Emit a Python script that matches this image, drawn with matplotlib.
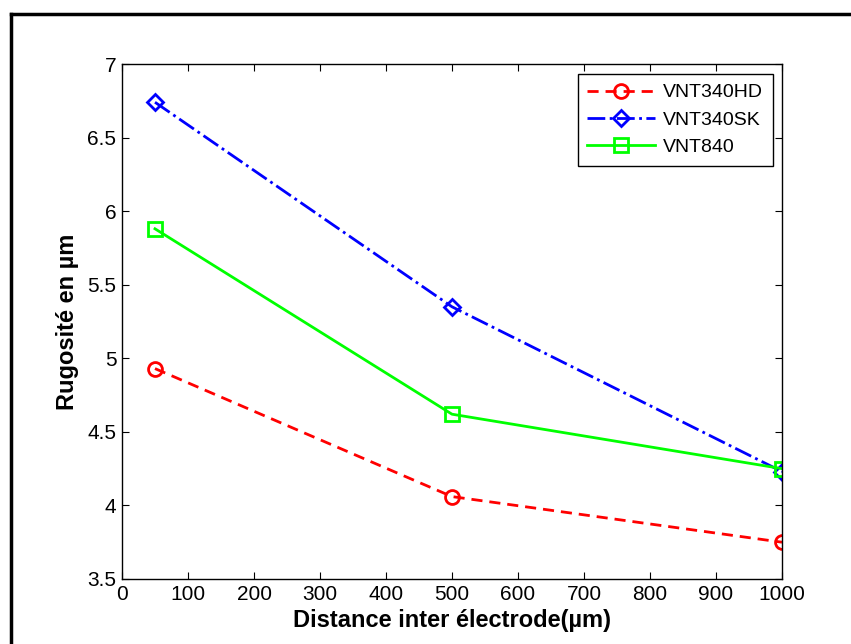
import matplotlib.pyplot as plt
from matplotlib.lines import Line2D

plt.rcParams['font.family'] = ['Liberation Sans', 'DejaVu Sans']

# Data
distance = [50, 500, 1000]
vnt340hd = [4.93, 4.06, 3.75]
vnt340sk = [6.74, 5.35, 4.23]
vnt840 = [5.88, 4.62, 4.25]

W, H = 851, 644
fig = plt.figure(figsize=(W / 100, H / 100), dpi=100)
ax = fig.add_axes([122 / W, 1 - 579 / H, (782 - 122) / W, (579 - 64) / H])

ax.plot(distance, vnt340hd, 'r--o', lw=2, ms=10, mfc='none', mew=2,
        dashes=(4, 2.5), label='VNT340HD')
ax.plot(distance, vnt340sk, 'b-.D', lw=2, ms=8, mfc='none', mew=2, label='VNT340SK')
ax.plot(distance, vnt840, color='#00ff00', ls='-', marker='s', lw=2, ms=10,
        mfc='none', mew=2, label='VNT840')

ax.set_xlim(0, 1000)
ax.set_ylim(3.5, 7)
ax.set_xticks(range(0, 1001, 100))
ax.set_yticks([3.5, 4, 4.5, 5, 5.5, 6, 6.5, 7])
ax.set_yticklabels(['3.5', '4', '4.5', '5', '5.5', '6', '6.5', '7'])
ax.tick_params(direction='in', top=True, right=True, labelsize=15, length=5, pad=4)
for s in ax.spines.values():
    s.set_linewidth(1)

ax.set_xlabel('Distance inter électrode(µm)', fontsize=17, fontweight='bold', labelpad=4)
ax.set_ylabel('Rugosité en µm', fontsize=17, fontweight='bold', labelpad=6)

leg = ax.legend(loc='upper right', bbox_to_anchor=(773 / W, 1 - 74 / H),
                bbox_transform=fig.transFigure, borderaxespad=0, fontsize=14,
                fancybox=False, framealpha=1, edgecolor='black', handlelength=3.5,
                handletextpad=0.4, borderpad=0.5, labelspacing=0.5)
leg.get_frame().set_linewidth(1)

# outer frame (cropped on right/bottom)
fig.add_artist(Line2D([11 / W, 11 / W], [0, 1 - 14 / H], transform=fig.transFigure,
                      color='black', lw=2.5))
fig.add_artist(Line2D([11 / W, 1], [1 - 14 / H, 1 - 14 / H], transform=fig.transFigure,
                      color='black', lw=2.5))

fig.savefig('out.png', dpi=100)
